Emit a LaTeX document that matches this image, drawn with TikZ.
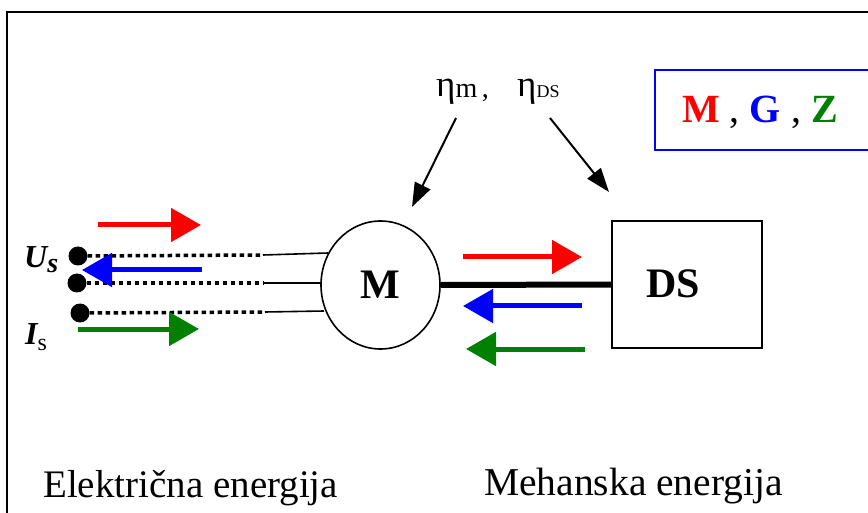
\documentclass[tikz,border=0pt]{standalone}
\usepackage{fontspec}
\setmainfont{Liberation Serif}
\usetikzlibrary{arrows.meta,shapes.geometric}
\definecolor{cred}{RGB}{255,0,0}
\definecolor{cblue}{RGB}{0,0,255}
\definecolor{cgreen}{RGB}{0,128,0}
\tikzset{
  bigarrow/.style={line width=5pt,-{Triangle[length=30pt,width=33pt]}},
  etaarrow/.style={line width=2pt,-{Triangle[length=24pt,width=17pt]}},
  dotline/.style={line width=3.5pt,dash pattern=on 4.5pt off 3.5pt},
  wire/.style={line width=1.6pt},
  terminal/.style={circle,fill=black,inner sep=0pt,minimum size=19pt},
}
\begin{document}
\begin{tikzpicture}[x=1pt,y=-1pt]
\useasboundingbox (0,0) rectangle (868,513);
% frame
\draw[line width=2.5pt] (7,513) -- (7,12) -- (870,12);
% motor and load
\node[draw,ellipse,line width=1.6pt,inner sep=0pt,minimum width=119pt,minimum height=128pt,
      font=\fontsize{42}{42}\selectfont\bfseries] (motor) at (380.5,285) {M};
\node[draw,rectangle,line width=1.6pt,inner sep=0pt,minimum width=150pt,minimum height=127pt] (ds) at (687,284.5) {};
\node[inner sep=0pt,font=\fontsize{42}{42}\selectfont\bfseries] (dslabel) at (673.5,284) {DS};
\draw[line width=6pt] (motor.east) -- (ds.west);
% terminals
\node[terminal] (t1) at (78,256) {};
\node[terminal] (t2) at (77,283) {};
\node[terminal] (t3) at (80,313) {};
\coordinate (d1) at (263,255);
\coordinate (d2) at (263,283);
\coordinate (d3) at (265,312);
\coordinate (m1) at (328,253);
\coordinate (m2) at (321,283);
\coordinate (m3) at (324,311);
\draw[dotline] (t1) -- (d1);
\draw[dotline] (t2) -- (d2);
\draw[dotline] (t3) -- (d3);
\draw[wire] (d1) -- (m1);
\draw[wire] (d2) -- (m2);
\draw[wire] (d3) -- (m3);
% labels U_s, I_s
\node[anchor=base west,inner sep=0pt] (us) at (24,268)
  {\fontsize{32}{32}\selectfont\bfseries\itshape U\raisebox{-5pt}{\fontsize{28}{28}\selectfont s}};
\node[anchor=base west,inner sep=0pt] (is) at (25,344)
  {\fontsize{32}{32}\selectfont\bfseries\itshape I\raisebox{-6pt}{\fontsize{24}{24}\selectfont\mdseries\upshape s}};
% electric side arrows
\coordinate (ra1) at (98,225);  \coordinate (ra2) at (201,225);
\coordinate (ba1) at (202,270); \coordinate (ba2) at (82,270);
\coordinate (ga1) at (78,329);  \coordinate (ga2) at (199,329);
\draw[bigarrow,cred] (ra1) -- (ra2);
\draw[bigarrow,cblue] (ba1) -- (ba2);
\draw[bigarrow,cgreen] (ga1) -- (ga2);
% mechanical side arrows
\coordinate (rb1) at (463,257); \coordinate (rb2) at (582,257);
\coordinate (bb1) at (582,306); \coordinate (bb2) at (463,306);
\coordinate (gb1) at (585,349); \coordinate (gb2) at (466,349);
\draw[bigarrow,cred] (rb1) -- (rb2);
\draw[bigarrow,cblue] (bb1) -- (bb2);
\draw[bigarrow,cgreen] (gb1) -- (gb2);
% efficiencies
\node[anchor=base west,inner sep=0pt] (eta1) at (436,97)
  {\fontsize{37}{37}\selectfont η\raisebox{-1pt}{\fontsize{28}{28}\selectfont m\,,}};
\node[anchor=base west,inner sep=0pt] (eta2) at (517,97)
  {\fontsize{37}{37}\selectfont η\raisebox{-1pt}{\fontsize{18}{18}\selectfont DS}};
\coordinate (e1s) at (456,118); \coordinate (e1e) at (412,207);
\coordinate (e2s) at (550,118); \coordinate (e2e) at (609,192);
\draw[etaarrow] (e1s) -- (e1e);
\draw[etaarrow] (e2s) -- (e2e);
% mode box
\draw[cblue,line width=2pt] (872,70) -- (655,70) -- (655,150) -- (872,150);
\node[anchor=base west,inner sep=0pt,font=\fontsize{40}{40}\selectfont] (modes) at (682,123)
  {\textcolor{cred}{\bfseries M} , \textcolor{cblue}{\bfseries G} , \textcolor{cgreen}{\bfseries Z}};
% bottom labels
\node[anchor=base west,inner sep=0pt,font=\fontsize{39}{39}\selectfont] (el) at (43,497) {Električna energija};
\node[anchor=base west,inner sep=0pt,font=\fontsize{39.5}{39.5}\selectfont] (me) at (484,495) {Mehanska energija};
\end{tikzpicture}
\end{document}
